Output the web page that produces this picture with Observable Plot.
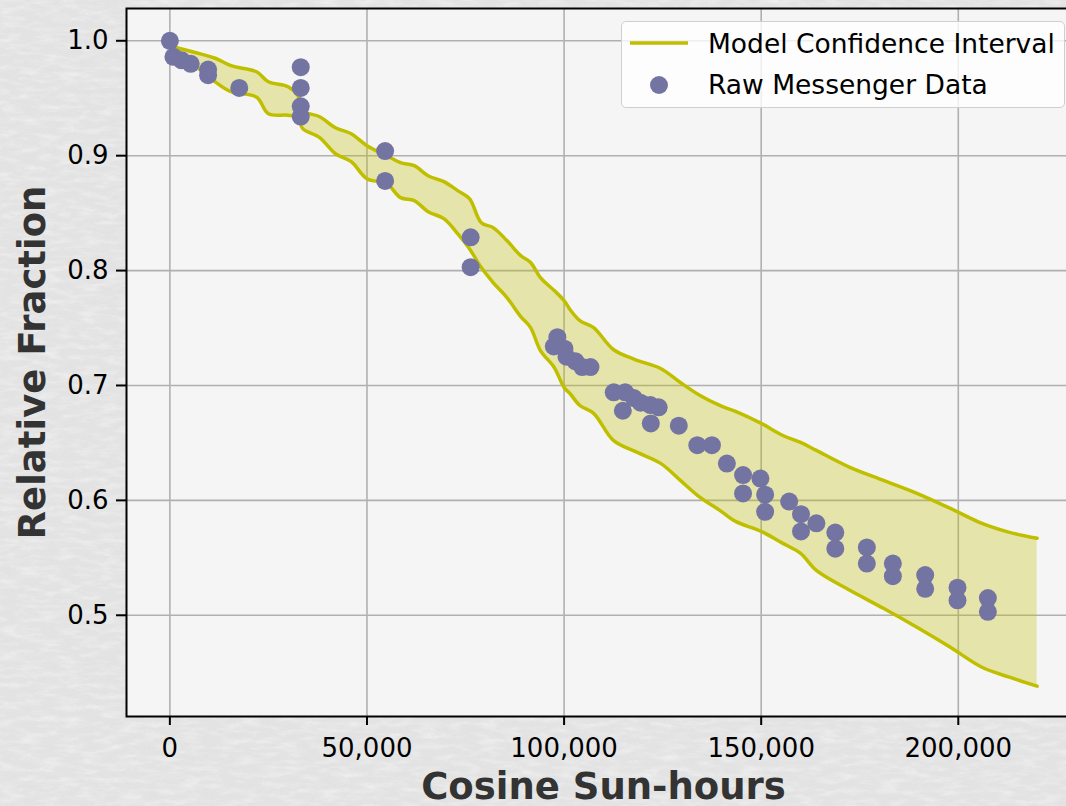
<!DOCTYPE html>
<html>
<head>
<meta charset="utf-8">
<script src="https://cdn.jsdelivr.net/npm/d3@7"></script>
<script src="https://cdn.jsdelivr.net/npm/@observablehq/plot@0.6"></script>
<style>
  html, body { margin: 0; padding: 0; overflow: hidden; width: 1066px; height: 806px; background: #e2e2e2; }
  #bg { position: absolute; left: 0; top: 0; }
  #chart { position: absolute; left: 0; top: 0; width: 1100px; height: 806px; }
  #chart svg { max-width: none !important; width: 1100px; height: 806px; }
  #legend { position: absolute; left: 621px; top: 21px; width: 444px; height: 87px;
    box-sizing: border-box; border: 1.5px solid #cfcfcf; border-radius: 5px;
    background: rgba(255,255,255,0.8); font-family: "DejaVu Sans", sans-serif; }
  #legend svg { position: absolute; left: 0; top: 0; }
</style>
</head>
<body>
<div id="bg">
  <svg width="1066" height="806">
    <filter id="marble" x="0" y="0" width="100%" height="100%">
      <feTurbulence type="fractalNoise" baseFrequency="0.05 0.18" numOctaves="4" seed="7" result="t"/>
      <feColorMatrix type="matrix" in="t"
        values="0 0 0 0 1  0 0 0 0 1  0 0 0 0 1  0.9 0 0 0 -0.38"/>
    </filter>
    <filter id="marble2" x="0" y="0" width="100%" height="100%">
      <feTurbulence type="fractalNoise" baseFrequency="0.35" numOctaves="2" seed="21" result="t"/>
      <feColorMatrix type="matrix" in="t"
        values="0 0 0 0 0.72  0 0 0 0 0.72  0 0 0 0 0.72  0.5 0 0 0 -0.2"/>
    </filter>
    <rect width="1066" height="806" fill="#e3e3e3"/>
    <rect width="1066" height="806" filter="url(#marble)"/>
    <rect width="1066" height="806" filter="url(#marble2)"/>
  </svg>
</div>
<div id="chart"></div>
<div id="legend">
  <svg width="444" height="87">
    <line x1="8" x2="66" y1="21" y2="21" stroke="#bfbf00" stroke-width="3.5"/>
    <circle cx="37" cy="63" r="9" fill="#7474a3"/>
    <text x="86" y="31" font-size="26.5" fill="#000">Model Confidence Interval</text>
    <text x="86" y="72" font-size="26.5" fill="#000">Raw Messenger Data</text>
  </svg>
</div>
<script>
// Model confidence band (x in cosine sun-hours, upper and lower relative fraction)
const bandX = [1500, 8000, 11500, 15500, 22000, 25000, 30000, 32500, 33700, 38000, 42000, 46000, 50000, 55000, 58500, 62000, 65500, 69500, 73000, 76000, 79000, 82000, 85500, 89000, 91500, 94000, 97500, 100000, 101500, 104000, 107500, 112500, 118000, 124500, 129500, 134500, 139500, 143500, 150000, 155500, 160000, 164000, 172500, 181000, 189500, 198000, 206000, 213000, 220000];
const bandUpper = [0.9942, 0.9884, 0.9848, 0.9783, 0.9730, 0.9643, 0.9600, 0.9522, 0.9391, 0.9339, 0.9243, 0.9191, 0.9087, 0.9000, 0.8939, 0.8913, 0.8826, 0.8774, 0.8696, 0.8626, 0.8417, 0.8374, 0.8261, 0.8130, 0.8070, 0.7939, 0.7826, 0.7739, 0.7661, 0.7565, 0.7504, 0.7313, 0.7226, 0.7148, 0.7026, 0.6913, 0.6826, 0.6774, 0.6670, 0.6565, 0.6504, 0.6435, 0.6287, 0.6174, 0.6061, 0.5930, 0.5800, 0.5722, 0.5670];
const bandLower = [0.9930, 0.9739, 0.9643, 0.9557, 0.9509, 0.9365, 0.9352, 0.9330, 0.9235, 0.9157, 0.9017, 0.8948, 0.8800, 0.8757, 0.8635, 0.8609, 0.8513, 0.8452, 0.8322, 0.8191, 0.8026, 0.7896, 0.7765, 0.7600, 0.7504, 0.7304, 0.7157, 0.6983, 0.6930, 0.6826, 0.6757, 0.6522, 0.6426, 0.6322, 0.6174, 0.6026, 0.5913, 0.5817, 0.5730, 0.5626, 0.5539, 0.5391, 0.5217, 0.5061, 0.4896, 0.4722, 0.4548, 0.4461, 0.4383];

// Raw Messenger data
const rawX = [0, 900, 3000, 5300, 9700, 9700, 17600, 33200, 33200, 33200, 33200, 54600, 54600, 76300, 76300, 98300, 97400, 100100, 100600, 102900, 104600, 106700, 112600, 115500, 117700, 114900, 119400, 121900, 124000, 122000, 129100, 133800, 137500, 141300, 145400, 149800, 145400, 151000, 151000, 157100, 160100, 160100, 164000, 168800, 168800, 176800, 176800, 183400, 183400, 191600, 191600, 199800, 199800, 207500, 207500];
const rawY = [1.000, 0.986, 0.983, 0.980, 0.975, 0.970, 0.959, 0.977, 0.959, 0.943, 0.934, 0.904, 0.878, 0.829, 0.803, 0.742, 0.734, 0.732, 0.725, 0.721, 0.716, 0.716, 0.694, 0.694, 0.689, 0.678, 0.685, 0.683, 0.681, 0.667, 0.665, 0.648, 0.648, 0.632, 0.622, 0.619, 0.606, 0.605, 0.590, 0.599, 0.588, 0.573, 0.580, 0.572, 0.558, 0.559, 0.545, 0.545, 0.534, 0.535, 0.523, 0.524, 0.513, 0.515, 0.503];

const xTicks = [0, 50000, 100000, 150000, 200000];
const yTicks = [0.5, 0.6, 0.7, 0.8, 0.9, 1.0];
const xLabel = "Cosine Sun-hours";
const yLabel = "Relative Fraction";

const band = bandX.map((x, i) => ({x, hi: bandUpper[i], lo: bandLower[i]}));
const raw = rawX.map((x, i) => ({x, y: rawY[i]}));

const chart = Plot.plot({
  width: 1100,
  height: 806,
  marginLeft: 126,
  marginRight: 20,
  marginTop: 8,
  marginBottom: 90,
  x: {domain: [-11000, 231000]},
  y: {domain: [0.4119, 1.0281]},
  style: {fontFamily: "DejaVu Sans, sans-serif", background: "transparent", color: "#000", overflow: "visible", maxWidth: "none"},
  marks: [
    Plot.frame({fill: "#f5f5f5"}),
    Plot.gridX(xTicks, {stroke: "#b0b0b0", strokeOpacity: 1, strokeWidth: 1.6}),
    Plot.gridY(yTicks, {stroke: "#b0b0b0", strokeOpacity: 1, strokeWidth: 1.6}),
    Plot.areaY(band, {x: "x", y1: "lo", y2: "hi", fill: "#bfbf00", fillOpacity: 0.3, curve: "catmull-rom"}),
    Plot.line(band, {x: "x", y: "hi", stroke: "#bfbf00", strokeWidth: 3.5, curve: "catmull-rom", strokeLinejoin: "round"}),
    Plot.line(band, {x: "x", y: "lo", stroke: "#bfbf00", strokeWidth: 3.5, curve: "catmull-rom", strokeLinejoin: "round"}),
    Plot.dot(raw, {x: "x", y: "y", r: 9, fill: "#7474a3"}),
    Plot.frame({stroke: "#000", strokeWidth: 2}),
    Plot.axisX(xTicks, {tickFormat: d3.format(","), fontSize: 26, tickSize: 9, tickPadding: 13, strokeWidth: 2, label: null}),
    Plot.axisY(yTicks, {tickFormat: d3.format(".1f"), fontSize: 26, tickSize: 10, tickPadding: 8, strokeWidth: 2, label: null}),
    Plot.text([xLabel], {text: d => d, frameAnchor: "bottom", textAnchor: "middle", dy: 82, lineAnchor: "bottom", fontSize: 37, fontWeight: "bold", fill: "#333"}),
    Plot.text([yLabel], {text: d => d, frameAnchor: "left", textAnchor: "middle", dx: -93, rotate: -90, fontSize: 37, fontWeight: "bold", fill: "#333"})
  ]
});
document.getElementById("chart").appendChild(chart);
</script>
</body>
</html>
